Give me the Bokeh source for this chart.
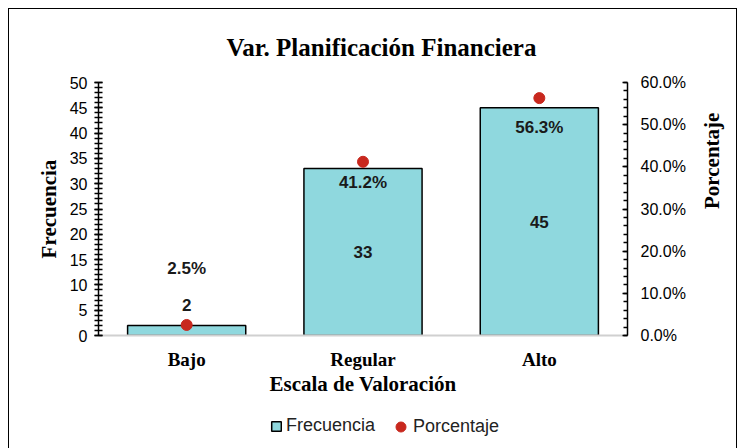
import math
from bokeh.plotting import figure
from bokeh.layouts import column
from bokeh.models import (ColumnDataSource, Range1d, LinearAxis, SingleIntervalTicker, FixedTicker,
                          NumeralTickFormatter, Legend, LegendItem, FactorRange)
from bokeh.embed import file_html
from bokeh.resources import INLINE
from bokeh.core.properties import value

categories = ["Bajo", "Regular", "Alto"]
frecuencia = [2, 33, 45]
porcentaje = [0.025, 0.412, 0.563]
pct_labels = ["2.5%", "41.2%", "56.3%"]
cnt_labels = ["2", "33", "45"]
series_names = ["Frecuencia", "Porcentaje"]

SERIF = "Liberation Serif"
SANS = "Liberation Sans"
BAR_FILL = "#8FD8DE"
DOT = "#C8281E"

src = ColumnDataSource(dict(
    cat=categories, frec=frecuencia, pct=porcentaje,
    frec_mid=[v / 2 for v in frecuencia],
    pct_lab=pct_labels, cnt_lab=cnt_labels,
    cnt_off=[-25, 0, 0], pct_off=[-56, 21, 29],
))

p = figure(width=729, height=400, x_range=FactorRange(*categories, range_padding=0.0),
           y_range=Range1d(0, 50), output_backend="svg", toolbar_location=None,
           min_border_left=89, min_border_right=107, min_border_top=69, min_border_bottom=74)
p.x_range.factor_padding = 0
p.extra_y_ranges = {"pct": Range1d(0, 0.6)}

p.styles = {"border-left": "1px solid black", "border-top": "1px solid black",
            "border-right": "1px solid black", "box-sizing": "border-box",
            "margin-left": "8px", "margin-top": "8px"}

p.outline_line_color = None
p.xgrid.visible = False
p.ygrid.visible = False
p.background_fill_color = "white"
p.border_fill_color = "white"

p.title.text = "Var. Planificación Financiera"
p.title.text_font = SERIF
p.title.text_font_size = "25px"
p.title.text_font_style = "bold"
p.title.align = "left"
p.title.offset = 128
p.title.standoff = 44
p.title.text_color = "black"

p.vbar(x="cat", top="frec", width=0.67, source=src, fill_color=BAR_FILL,
       line_color="black", line_width=1.5)
p.scatter(x="cat", y="pct", y_range_name="pct", source=src, size=11,
          fill_color=DOT, line_color=DOT, marker="circle")

p.text(x="cat", y="frec_mid", text="cnt_lab", y_offset="cnt_off", source=src,
       text_align="center", text_baseline="middle", text_font=value(SANS),
       text_font_size="17px", text_font_style="bold", text_color="#1a1a1a")
p.text(x="cat", y="pct", text="pct_lab", y_offset="pct_off", y_range_name="pct", source=src,
       text_align="center", text_baseline="middle", text_font=value(SANS),
       text_font_size="17px", text_font_style="bold", text_color="#1a1a1a")

# x axis
xa = p.xaxis[0]
xa.axis_line_color = "#d0d0d0"
xa.axis_line_width = 2
xa.major_tick_line_color = None
xa.minor_tick_line_color = None
xa.major_label_text_font = SERIF
xa.major_label_text_font_size = "19px"
xa.major_label_text_font_style = "bold"
xa.major_label_text_color = "black"
xa.major_label_standoff = 7
xa.axis_label = "Escala de Valoración"
xa.axis_label_text_font = SERIF
xa.axis_label_text_font_size = "21px"
xa.axis_label_text_font_style = "bold"
xa.axis_label_text_color = "black"
xa.axis_label_standoff = -1

# left axis
ya = p.yaxis[0]
ya.ticker = SingleIntervalTicker(interval=5, num_minor_ticks=5)
ya.axis_line_color = "black"
ya.axis_line_width = 1.5
ya.major_tick_in = 4
ya.major_tick_out = 4
ya.minor_tick_in = 4
ya.minor_tick_out = 4
ya.major_tick_line_width = 1.5
ya.minor_tick_line_width = 1.5
ya.major_tick_line_color = "black"
ya.minor_tick_line_color = "black"
ya.major_label_text_font = SANS
ya.major_label_text_font_size = "16px"
ya.major_label_text_color = "black"
ya.major_label_standoff = 7
ya.axis_label = "Frecuencia"
ya.axis_label_text_font = SERIF
ya.axis_label_text_font_size = "21px"
ya.axis_label_text_font_style = "bold"
ya.axis_label_text_color = "black"
ya.axis_label_standoff = 6

# right axis
major_pct = [i / 10 for i in range(7)]
minor_pct = [i / 50 for i in range(31)]
ra = LinearAxis(y_range_name="pct", ticker=FixedTicker(ticks=major_pct, minor_ticks=minor_pct),
                formatter=NumeralTickFormatter(format="0.0%"))
ra.axis_line_color = "black"
ra.axis_line_width = 1.5
ra.major_tick_in = 5
ra.major_tick_out = 0
ra.minor_tick_in = 4
ra.minor_tick_out = 0
ra.major_tick_line_width = 1.5
ra.minor_tick_line_width = 1.5
ra.major_label_text_font = SANS
ra.major_label_text_font_size = "16px"
ra.major_label_text_color = "black"
ra.major_label_standoff = 13
ra.axis_label = "Porcentaje"
ra.axis_label_text_font = SERIF
ra.axis_label_text_font_size = "21px"
ra.axis_label_text_font_style = "bold"
ra.axis_label_text_color = "black"
ra.axis_label_standoff = 23
ra.axis_label_orientation = math.pi / 2
p.add_layout(ra, "right")

# legend strip below the chart (hidden copies of the series only provide the keys)
lg = figure(width=729, height=40, x_range=FactorRange(*categories), y_range=Range1d(1000, 1001),
            x_axis_type=None, y_axis_type=None, output_backend="svg", toolbar_location=None,
            min_border=0)
lg.styles = {"border-left": "1px solid black", "border-right": "1px solid black",
             "box-sizing": "border-box", "margin-left": "8px"}
lg.outline_line_color = None
lg.xgrid.visible = False
lg.ygrid.visible = False
r_bar = lg.vbar(x="cat", top="frec", width=0.67, source=src, fill_color=BAR_FILL,
                line_color="black", line_width=1.5, visible=False)
r_dot = lg.scatter(x="cat", y="pct", source=src, size=11, fill_color=DOT, line_color=DOT,
                   visible=False)

common = dict(orientation="horizontal", label_text_font=SANS, label_text_font_size="18px",
              label_text_color="#222222", padding=4, margin=0, border_line_color=None,
              background_fill_alpha=0, click_policy="none")
leg1 = Legend(items=[LegendItem(label=series_names[0], renderers=[r_bar])],
              location=(172, 12), glyph_width=12, glyph_height=12, label_standoff=4, **common)
leg2 = Legend(items=[LegendItem(label=series_names[1], renderers=[r_dot])],
              location=(290, 9), glyph_width=25, glyph_height=25, label_standoff=-2, **common)
lg.add_layout(leg1, "center")
lg.add_layout(leg2, "center")

layout = column(p, lg, spacing=0)
open("out.html", "w").write(file_html(layout, INLINE))
